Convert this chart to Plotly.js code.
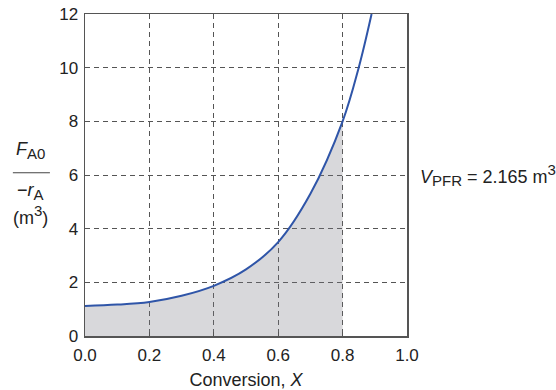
<!DOCTYPE html>
<html>
<head>
<meta charset="utf-8">
<script src="https://cdn.plot.ly/plotly-3.0.1.min.js"></script>
<style>html,body{margin:0;padding:0;background:#fff;}#chart{width:556px;height:390px;}</style>
</head>
<body>
<div id="chart"></div>
<script>
// Curve: conversion X vs F_A0/(-r_A) (m^3)
const conversion = [0, 0.1, 0.2, 0.3, 0.4, 0.5, 0.6, 0.7, 0.8, 0.85, 0.89];
const levenspiel = [1.12, 1.17, 1.27, 1.5, 1.87, 2.48, 3.5, 5.3, 8.0, 10.0, 12.0];
// shaded area = PFR volume up to X = 0.8
const shadedX = [0, 0.1, 0.2, 0.3, 0.4, 0.5, 0.6, 0.7, 0.8];
const shadedY = [1.12, 1.17, 1.27, 1.5, 1.87, 2.48, 3.5, 5.3, 8.0];
const xTicks = [0, 0.2, 0.4, 0.6, 0.8, 1.0];
const yTicks = [0, 2, 4, 6, 8, 10, 12];
const sub = s => "<sub><span style=\"font-size:15px\">" + s + "</span></sub>";
const sup = s => "<sup><span style=\"font-size:15px\">" + s + "</span></sup>";
const volumeLabel = "<i>V</i>" + sub("PFR") + " = 2.165 m" + sup("3");

const tickFont = {family: "Liberation Sans, Arial, sans-serif", size: 17, color: "#222"};
const font = {family: "Liberation Sans, Arial, sans-serif", size: 18, color: "#222"};

const traces = [
  {x: shadedX, y: shadedY, type: "scatter", mode: "lines", fill: "tozeroy",
   fillcolor: "rgba(120,122,130,0.29)", line: {width: 0, shape: "spline", smoothing: 1},
   hoverinfo: "skip", showlegend: false},
  {x: conversion, y: levenspiel, type: "scatter", mode: "lines",
   line: {color: "#2f55a8", width: 2, shape: "spline", smoothing: 1}, showlegend: false}
];

const axisCommon = {
  showline: true, mirror: true, linecolor: "#555", linewidth: 1.5,
  showgrid: true, gridcolor: "#555", griddash: "5px,4px", gridwidth: 1,
  zeroline: false, ticks: "inside", ticklen: 4, tickcolor: "#555",
  tickfont: tickFont, fixedrange: true
};

const layout = {
  width: 556, height: 390,
  margin: {l: 85, r: 149, t: 14, b: 54},
  paper_bgcolor: "#fff", plot_bgcolor: "#fff",
  font: font,
  xaxis: Object.assign({}, axisCommon, {
    range: [0, 1], tickvals: xTicks, ticktext: xTicks.map(v => v.toFixed(1)),
    ticklabelstandoff: 3,
    title: {text: "Conversion, <i>X</i>", font: font, standoff: 10}
  }),
  yaxis: Object.assign({}, axisCommon, {
    range: [0, 12], tickvals: yTicks, ticktext: yTicks.map(String), ticklabelstandoff: 2
  }),
  shapes: [
    {type: "line", xref: "paper", yref: "paper", x0: -0.224, x1: -0.109, y0: 0.507, y1: 0.507,
     line: {color: "#444", width: 1.2}}
  ],
  annotations: [
    {text: "<i>F</i>" + sub("A0"), xref: "paper", yref: "paper", x: -0.168, y: 0.575,
     showarrow: false, font: font, xanchor: "center", yanchor: "middle"},
    {text: "−<i>r</i>" + sub("A"), xref: "paper", yref: "paper", x: -0.168, y: 0.45,
     showarrow: false, font: font, xanchor: "center", yanchor: "middle"},
    {text: "(m" + sup("3") + ")", xref: "paper", yref: "paper", x: -0.168, y: 0.375,
     showarrow: false, font: font, xanchor: "center", yanchor: "middle"},
    {text: volumeLabel, xref: "paper", yref: "paper", x: 1.035, y: 0.5,
     showarrow: false, font: font, xanchor: "left", yanchor: "middle"}
  ]
};

Plotly.newPlot("chart", traces, layout, {displayModeBar: false, staticPlot: true});
</script>
</body>
</html>
